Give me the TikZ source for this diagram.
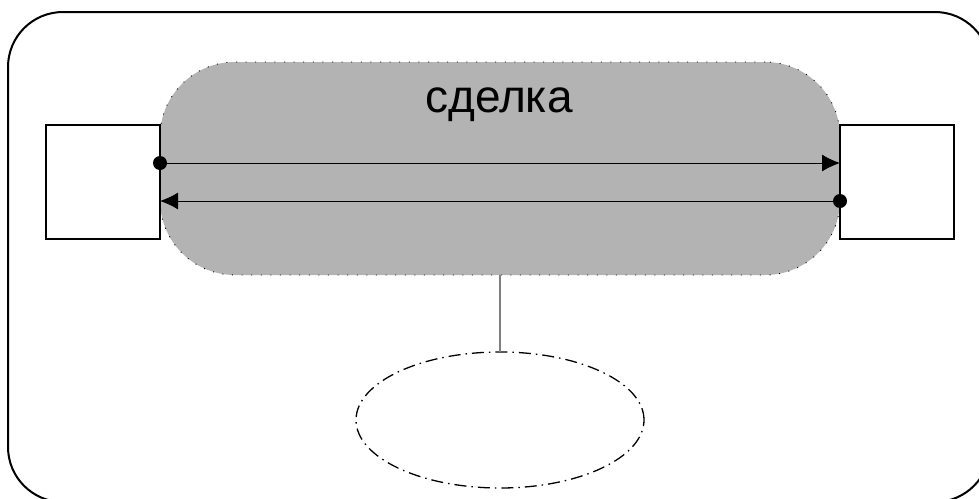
\documentclass[tikz,border=0pt]{standalone}
\usepackage{fontspec}
\setmainfont{Liberation Sans}
\usetikzlibrary{arrows.meta,shapes.geometric}

\definecolor{dealgray}{RGB}{179,179,179}
\definecolor{linkgray}{RGB}{128,128,128}

\tikzset{
    frame/.style={draw, line width=2pt, rounded corners=55pt},
    deal/.style={fill=dealgray, draw, line width=0.9pt, dash pattern=on 1pt off 8.6pt,
        rounded corners=75pt, minimum width=680pt, minimum height=213pt, inner sep=0pt, outer sep=0pt},
    party/.style={draw, fill=white, line width=1.5pt, minimum width=114pt, minimum height=114pt,
        inner sep=0pt, outer sep=0pt},
    flow/.style={line width=1pt, -{Latex[length=18pt, width=17pt]}},
    link/.style={draw=linkgray, line width=1.5pt},
    goal/.style={ellipse, draw, line width=1.3pt, dash pattern=on 12pt off 5pt on 1.5pt off 5pt,
        minimum width=288pt, minimum height=136pt, inner sep=0pt, outer sep=0pt}
}

\begin{document}
\begin{tikzpicture}[x=1pt, y=-1pt]
    \useasboundingbox (0,0) rectangle (979,498);
    \clip (0,0) rectangle (979,498);

    % outer frame
    \draw[frame] (8,12) rectangle (990,502);

    \node[deal] (deal) at (500,168.5) {};
    \node[anchor=base, font=\fontsize{46}{50}\selectfont] (dealname) at (499,112) {сделка};

    \node[party] (lbox) at (103,182) {};
    \node[party] (rbox) at (897,182) {};

    \draw[flow] ([yshift=19pt]lbox.east) to ([yshift=19pt]rbox.west);
    \draw[flow] ([yshift=-19pt]rbox.west) to ([yshift=-19pt]lbox.east);

    \fill ([yshift=19pt]lbox.east) circle (7pt)
          ([yshift=-19pt]rbox.west) circle (7pt);

    \node[goal] (goal) at (500,420) {};
    \draw[link] (deal.south) to (goal.north);
\end{tikzpicture}
\end{document}
